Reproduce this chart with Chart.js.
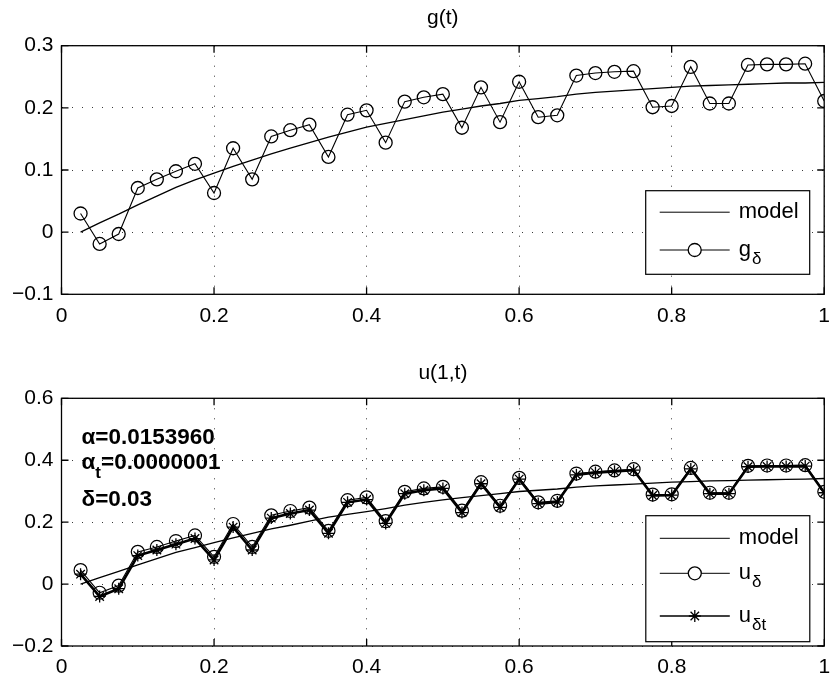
<!DOCTYPE html>
<html>
<head>
<meta charset="utf-8">
<title>g(t) and u(1,t)</title>
<script src="https://cdn.jsdelivr.net/npm/chart.js@4/dist/chart.umd.min.js"></script>
<style>
  html, body { margin: 0; padding: 0; background: #fff; }
  #wrap { position: relative; width: 832px; height: 677px; }
  #wrap canvas { position: absolute; left: 0; }
</style>
</head>
<body>
<div id="wrap">
  <canvas id="gChart" width="832" height="335" style="top:0"></canvas>
  <canvas id="uChart" width="832" height="342" style="top:335px"></canvas>
</div>
<script>
// time grid t_k
const tValues = [0.025, 0.05, 0.075, 0.1, 0.125, 0.15, 0.175, 0.2, 0.225, 0.25,
                 0.275, 0.3, 0.325, 0.35, 0.375, 0.4, 0.425, 0.45, 0.475, 0.5,
                 0.525, 0.55, 0.575, 0.6, 0.625, 0.65, 0.675, 0.7, 0.725, 0.75,
                 0.775, 0.8, 0.825, 0.85, 0.875, 0.9, 0.925, 0.95, 0.975, 1.0];

// boundary flux g(t): model and noisy data
const gModel = [0.000, 0.015, 0.029, 0.044, 0.058, 0.072, 0.084, 0.095, 0.106, 0.116,
                0.126, 0.135, 0.144, 0.153, 0.161, 0.169, 0.175, 0.181, 0.187, 0.193,
                0.198, 0.203, 0.207, 0.212, 0.215, 0.218, 0.222, 0.225, 0.227, 0.229,
                0.231, 0.233, 0.235, 0.236, 0.237, 0.238, 0.239, 0.240, 0.240, 0.241];
const gDelta = [0.030, -0.019, -0.003, 0.071, 0.085, 0.098, 0.110, 0.063, 0.135, 0.085,
                0.154, 0.164, 0.173, 0.121, 0.189, 0.196, 0.144, 0.210, 0.217, 0.222,
                0.168, 0.233, 0.177, 0.242, 0.185, 0.188, 0.252, 0.256, 0.258, 0.259,
                0.201, 0.203, 0.266, 0.207, 0.207, 0.269, 0.270, 0.270, 0.271, 0.211];

// u(1,t): model, reconstruction and time-regularised reconstruction
const uModel = [0.000, 0.021, 0.041, 0.062, 0.082, 0.102, 0.118, 0.134, 0.149, 0.164,
                0.178, 0.190, 0.203, 0.216, 0.225, 0.234, 0.244, 0.255, 0.264, 0.272,
                0.279, 0.286, 0.292, 0.299, 0.303, 0.307, 0.313, 0.317, 0.320, 0.323,
                0.326, 0.329, 0.331, 0.333, 0.334, 0.336, 0.337, 0.338, 0.339, 0.341];
const uDelta = [0.045, -0.028, -0.005, 0.104, 0.120, 0.139, 0.157, 0.088, 0.194, 0.120,
                0.222, 0.236, 0.247, 0.172, 0.271, 0.280, 0.203, 0.298, 0.309, 0.314,
                0.237, 0.329, 0.253, 0.343, 0.264, 0.269, 0.357, 0.363, 0.367, 0.371,
                0.289, 0.290, 0.375, 0.295, 0.295, 0.382, 0.383, 0.383, 0.384, 0.298];
const uDeltaT = [0.032, -0.040, -0.015, 0.092, 0.110, 0.129, 0.147, 0.078, 0.184, 0.110,
                 0.213, 0.228, 0.239, 0.164, 0.264, 0.273, 0.196, 0.292, 0.303, 0.309,
                 0.231, 0.324, 0.248, 0.339, 0.260, 0.265, 0.353, 0.360, 0.364, 0.368,
                 0.286, 0.287, 0.372, 0.292, 0.292, 0.379, 0.380, 0.380, 0.381, 0.295];

const xTicks = [0, 0.2, 0.4, 0.6, 0.8, 1];
const gTicks = [-0.1, 0, 0.1, 0.2, 0.3];
const uTicks = [-0.2, 0, 0.2, 0.4, 0.6];

const FONT = "'Liberation Sans', Arial, Helvetica, sans-serif";

function toPoints(ys) {
  return tValues.map((t, i) => ({ x: t, y: ys[i] }));
}

function fmt(v) {
  const r = Math.round(v * 10) / 10;
  if (r === 0) return '0';
  return (r < 0 ? '\u2212' : '') + String(Math.abs(r));
}

function drawStar(ctx, x, y, r) {
  ctx.beginPath();
  for (let k = 0; k < 4; k++) {
    const a = k * Math.PI / 4;
    ctx.moveTo(x - r * Math.cos(a), y - r * Math.sin(a));
    ctx.lineTo(x + r * Math.cos(a), y + r * Math.sin(a));
  }
  ctx.stroke();
}

// box, inward ticks, title, legend and text notes in the matlab look
const matlabAxes = {
  id: 'matlabAxes',
  beforeDatasetsDraw(chart, args, opts) {
    const { ctx, chartArea: a, scales } = chart;
    ctx.save();
    ctx.strokeStyle = '#000';
    ctx.lineWidth = 1.3;
    ctx.strokeRect(a.left, a.top, a.right - a.left, a.bottom - a.top);
    ctx.beginPath();
    const tl = 7;
    opts.xTicks.forEach(v => {
      const px = scales.x.getPixelForValue(v);
      ctx.moveTo(px, a.bottom); ctx.lineTo(px, a.bottom - tl);
      ctx.moveTo(px, a.top); ctx.lineTo(px, a.top + tl);
    });
    opts.yTicks.forEach(v => {
      const py = scales.y.getPixelForValue(v);
      ctx.moveTo(a.left, py); ctx.lineTo(a.left + tl, py);
      ctx.moveTo(a.right, py); ctx.lineTo(a.right - tl, py);
    });
    ctx.stroke();
    ctx.restore();
  },
  afterDraw(chart, args, opts) {
    const { ctx, chartArea: a } = chart;
    ctx.save();
    ctx.fillStyle = '#000';
    ctx.strokeStyle = '#000';

    // title
    ctx.font = '21px ' + FONT;
    ctx.textAlign = 'center';
    ctx.textBaseline = 'middle';
    ctx.fillText(opts.title, (a.left + a.right) / 2, opts.titleY);

    // notes
    (opts.notes || []).forEach(n => {
      ctx.textAlign = 'left';
      ctx.textBaseline = 'middle';
      let x = a.left + n.dx;
      const y = a.top + n.dy;
      n.parts.forEach(p => {
        ctx.font = 'bold ' + (p.sub ? 17 : 22.5) + 'px ' + FONT;
        const yy = p.sub ? y + 11 : y;
        ctx.fillText(p.text, x, yy);
        x += ctx.measureText(p.text).width;
      });
    });

    // legend
    const L = opts.legend;
    const bx = a.right - L.right - L.width;
    const by = a.bottom - L.bottom - L.height;
    ctx.fillStyle = '#fff';
    ctx.fillRect(bx, by, L.width, L.height);
    ctx.lineWidth = 1.2;
    ctx.strokeRect(bx, by, L.width, L.height);
    ctx.fillStyle = '#000';
    L.rows.forEach(r => {
      const y = by + r.y;
      ctx.lineWidth = r.lineWidth || 1;
      ctx.beginPath();
      ctx.moveTo(bx + 14, y);
      ctx.lineTo(bx + 84, y);
      ctx.stroke();
      ctx.lineWidth = 1.3;
      if (r.marker === 'circle') {
        ctx.fillStyle = '#fff';
        ctx.beginPath();
        ctx.arc(bx + 49, y, 6.5, 0, Math.PI * 2);
        ctx.fill();
        ctx.stroke();
        ctx.fillStyle = '#000';
      } else if (r.marker === 'star') {
        drawStar(ctx, bx + 49, y, 6);
      }
      ctx.textAlign = 'left';
      ctx.textBaseline = 'middle';
      ctx.font = '22px ' + FONT;
      ctx.fillText(r.label, bx + 93, y);
      if (r.sub) {
        const w = ctx.measureText(r.label).width;
        ctx.font = '17px ' + FONT;
        ctx.fillText(r.sub, bx + 93 + w + 1, y + 9);
      }
    });
    ctx.restore();
  }
};

function axes(yMin, yMax, yStep, xHeight) {
  const grid = { color: '#3a3a3a', lineWidth: 1, drawTicks: false };
  const border = { display: false, dash: [1, 9] };
  const font = { family: FONT, size: 21 };
  return {
    x: {
      type: 'linear', min: 0, max: 1,
      ticks: { stepSize: 0.2, padding: 9, color: '#000', font, maxRotation: 0, autoSkip: false, callback: fmt },
      grid, border,
      afterFit(s) { s.height = xHeight; s.paddingLeft = 0; s.paddingRight = 0; }
    },
    y: {
      min: yMin, max: yMax,
      ticks: { stepSize: yStep, padding: 8, color: '#000', font, callback: fmt },
      grid, border,
      afterFit(s) { s.width = 61.5; s.paddingTop = 0; s.paddingBottom = 0; }
    }
  };
}

const common = {
  responsive: false,
  animation: false,
  events: [],
  parsing: true
};

new Chart(document.getElementById('gChart'), {
  type: 'line',
  data: {
    datasets: [
      { label: 'model', data: toPoints(gModel), borderColor: '#000', borderWidth: 1.3,
        pointRadius: 0, fill: false },
      { label: 'g\u03b4', data: toPoints(gDelta), borderColor: '#000', borderWidth: 1.1,
        pointStyle: 'circle', pointRadius: 6.5, pointBorderWidth: 1.3,
        pointBorderColor: '#000', pointBackgroundColor: 'rgba(0,0,0,0)', fill: false }
    ]
  },
  options: {
    ...common,
    layout: { padding: { top: 45.7, right: 3.5, left: 0, bottom: 0 } },
    scales: axes(-0.1, 0.3, 0.1, 40.7),
    plugins: {
      legend: { display: false },
      tooltip: { enabled: false },
      matlabAxes: {
        title: 'g(t)', titleY: 18,
        xTicks, yTicks: gTicks,
        legend: {
          right: 14.5, bottom: 20, width: 164, height: 83.6,
          rows: [
            { label: 'model', y: 21.5 },
            { label: 'g', sub: '\u03b4', y: 59.3, marker: 'circle' }
          ]
        }
      }
    }
  },
  plugins: [matlabAxes]
});

new Chart(document.getElementById('uChart'), {
  type: 'line',
  data: {
    datasets: [
      { label: 'model', data: toPoints(uModel), borderColor: '#000', borderWidth: 1.3,
        pointRadius: 0, fill: false },
      { label: 'u\u03b4', data: toPoints(uDelta), borderColor: '#000', borderWidth: 1.1,
        pointStyle: 'circle', pointRadius: 6.5, pointBorderWidth: 1.2,
        pointBorderColor: '#000', pointBackgroundColor: 'rgba(0,0,0,0)', fill: false },
      { label: 'u\u03b4t', data: toPoints(uDeltaT), borderColor: '#000', borderWidth: 2.6,
        pointStyle: 'star', pointRadius: 6, pointBorderWidth: 1.3,
        pointBorderColor: '#000', pointBackgroundColor: '#000', fill: false }
    ]
  },
  options: {
    ...common,
    layout: { padding: { top: 63.3, right: 3.5, left: 0, bottom: 0 } },
    scales: axes(-0.2, 0.6, 0.2, 31),
    plugins: {
      legend: { display: false },
      tooltip: { enabled: false },
      matlabAxes: {
        title: 'u(1,t)', titleY: 38,
        xTicks, yTicks: uTicks,
        notes: [
          { dx: 20, dy: 39, parts: [{ text: '\u03b1=0.0153960' }] },
          { dx: 20, dy: 64.5, parts: [{ text: '\u03b1' }, { text: 't', sub: true }, { text: '=0.0000001' }] },
          { dx: 20, dy: 101.5, parts: [{ text: '\u03b4=0.03' }] }
        ],
        legend: {
          right: 14.5, bottom: 4.3, width: 164, height: 126,
          rows: [
            { label: 'model', y: 22.6 },
            { label: 'u', sub: '\u03b4', y: 57.6, marker: 'circle' },
            { label: 'u', sub: '\u03b4t', y: 100.3, marker: 'star', lineWidth: 1.6 }
          ]
        }
      }
    }
  },
  plugins: [matlabAxes]
});
</script>
</body>
</html>
